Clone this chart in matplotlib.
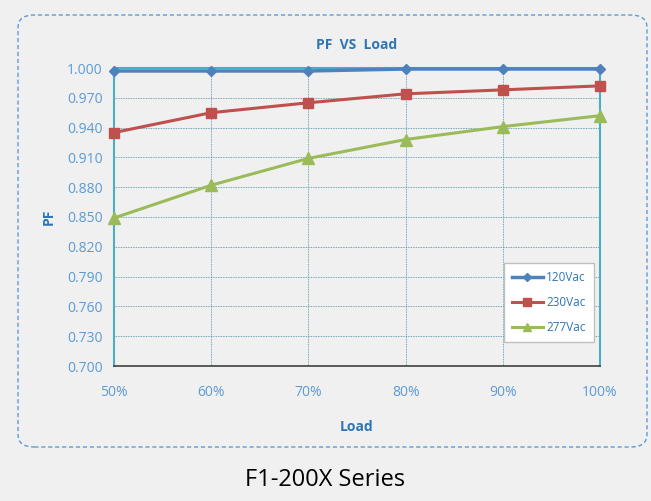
import matplotlib.pyplot as plt
from matplotlib.patches import FancyBboxPatch

loads = [50, 60, 70, 80, 90, 100]
load_labels = ['50%', '60%', '70%', '80%', '90%', '100%']
pf_120 = [0.997, 0.997, 0.997, 0.999, 0.999, 0.999]
pf_230 = [0.935, 0.955, 0.965, 0.974, 0.978, 0.982]
pf_277 = [0.849, 0.882, 0.909, 0.928, 0.941, 0.952]
yticks = [0.700, 0.730, 0.760, 0.790, 0.820, 0.850, 0.880, 0.910, 0.940, 0.970, 1.000]

bg = '#f0f0f0'
tick_blue = '#5b9bd5'
title_blue = '#2e75b6'

plt.rcParams['font.family'] = ['Open Sans', 'DejaVu Sans']

fig = plt.figure(figsize=(6.51, 5.01), dpi=100, facecolor=bg)
ax = fig.add_axes([114 / 651, 1 - 366 / 501, 486 / 651, 298 / 501])
ax.set_facecolor(bg)

# rounded dashed frame round the chart
frame = FancyBboxPatch((18 / 651, 1 - 447 / 501), 629 / 651, 432 / 501,
                       boxstyle='round,pad=0,rounding_size=0.025',
                       transform=fig.transFigure, fill=False,
                       edgecolor='#5b9bd5', linestyle=(0, (3, 2)), linewidth=1.0)
fig.patches.append(frame)

ax.plot(loads, pf_120, color='#4f81bd', marker='D', markersize=5, linewidth=2.5,
        label='120Vac', clip_on=False, zorder=4)
ax.plot(loads, pf_230, color='#c0504d', marker='s', markersize=7, linewidth=2.2,
        label='230Vac', clip_on=False, zorder=4)
ax.plot(loads, pf_277, color='#9bbb59', marker='^', markersize=8, linewidth=2.2,
        label='277Vac', clip_on=False, zorder=4)

ax.set_xlim(50, 100)
ax.set_ylim(0.700, 1.000)
ax.set_xticks(loads)
ax.set_xticklabels(load_labels)
ax.set_yticks(yticks)
ax.set_yticklabels([f'{v:.3f}' for v in yticks])
ax.tick_params(axis='both', colors=tick_blue, labelsize=10, length=0)
ax.tick_params(axis='x', pad=14)
ax.tick_params(axis='y', pad=8)
ax.grid(True, color='#4a8fa8', linestyle=(0, (1, 1)), linewidth=0.6)

for side in ['left', 'right', 'top']:
    ax.spines[side].set_color('#4bacc6')
    ax.spines[side].set_linewidth(1.5)
ax.spines['bottom'].set_color('#404040')
ax.spines['bottom'].set_linewidth(1.2)

ax.set_title('PF  VS  Load', color=title_blue, fontsize=10, fontweight='bold', pad=14)
ax.set_xlabel('Load', color=title_blue, fontsize=10, fontweight='bold', labelpad=14)
ax.set_ylabel('PF', color=title_blue, fontsize=10, fontweight='bold', labelpad=8)

leg = ax.legend(loc='lower right', bbox_to_anchor=(1.0, 0.06), fontsize=8.5,
                frameon=True, fancybox=False, labelcolor='#2e75b6',
                handlelength=2.6, handletextpad=0.3, borderpad=0.7,
                labelspacing=1.0, markerscale=0.8)
leg.get_frame().set_facecolor('white')
leg.get_frame().set_edgecolor('#bfbfbf')
leg.get_frame().set_alpha(1)
leg.set_zorder(5)

fig.text(0.5, 1 - 480 / 501, 'F1-200X Series', ha='center', va='center',
         fontsize=17, color='black')

fig.savefig('out.png', dpi=100, facecolor=bg)
